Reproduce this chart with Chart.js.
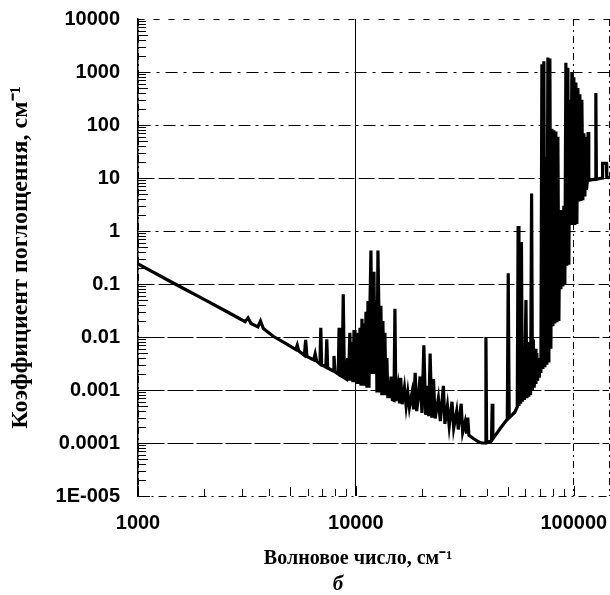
<!DOCTYPE html>
<html>
<head>
<meta charset="utf-8">
<script src="https://cdn.jsdelivr.net/npm/chart.js@4/dist/chart.umd.min.js"></script>
<style>
  html, body { margin: 0; padding: 0; background: #fff; }
  #wrap { width: 610px; height: 595px; }
</style>
</head>
<body>
<div id="wrap"><canvas id="c" width="610" height="595"></canvas></div>
<script>
// Wave number, cm^-1
const waveNumber = [
  1000, 1480, 2000, 2600, 3100, 3200, 3300, 3550, 3650, 3760,
  4190, 4800, 5300, 5380, 5460, 5800, 5880, 5960, 6400, 6500,
  6600, 6840, 6900, 6960, 7280, 7350, 7420, 7850, 7930, 8020,
  8300, 8370, 8450, 8650, 8745, 8850, 9050, 9150, 9250, 9380,
  9480, 9590, 9690, 9800, 9900, 10010, 10110, 10220, 10330, 10440,
  10550, 10660, 10770, 10890, 11000, 11120, 11240, 11360, 11480, 11600,
  11720, 11850, 11970, 12100, 12230, 12360, 12490, 12620, 12750, 12890,
  13020, 13160, 13300, 13440, 13580, 13730, 13870, 14020, 14170, 14320,
  14500, 14700, 14950, 15100, 15250, 15600, 15850, 16050, 16300, 16700,
  17000, 17300, 17600, 18100, 18400, 18700, 19000, 19400, 19700, 20100,
  20500, 20900, 21300, 21600, 21900, 22300, 22700, 23100, 23900, 24400,
  25200, 25600, 26300, 26800, 27600, 28100, 29000, 29500, 30400, 30900,
  31700, 32200, 32600, 33000, 34700, 36500, 37800, 39200, 39500, 39800,
  41900, 42200, 42500, 46000, 49500, 50000, 50500, 53600, 55000, 55500,
  56000, 56600, 57000, 57500, 58000, 58700, 59300, 60300, 60900, 61500,
  62100, 62700, 63300, 64000, 64600, 65200, 65800, 66400, 67000, 67600,
  68200, 68800, 69400, 70000, 70600, 71340, 72100, 72860, 73640, 74420,
  75210, 76010, 76820, 77630, 78460, 79290, 80130, 80980, 81840, 82710,
  83590, 84480, 85370, 86280, 87200, 88120, 89060, 90000, 90960, 91930,
  92900, 93890, 94890, 95890, 96910, 97940, 98980, 100030, 101090, 102170,
  103250, 104350, 105460, 106580, 107710, 108850, 110010, 111180, 112360, 113550,
  114300, 115400, 116300, 117100, 125500, 126200, 126900, 135000, 135500, 141000,
  141600, 145000
];
// Absorption coefficient, cm^-1
const absorption = [
  0.24, 0.1, 0.052, 0.029, 0.0195, 0.023, 0.018, 0.0155, 0.02, 0.0145,
  0.0102, 0.0074, 0.0058, 0.007, 0.0055, 0.0045, 0.0088, 0.0043, 0.0037, 0.0048,
  0.0035, 0.0031, 0.015, 0.003, 0.0027, 0.009, 0.0026, 0.0023, 0.0044, 0.0022,
  0.002, 0.015, 0.0019, 0.0018, 0.064, 0.0017, 0.0016, 0.004, 0.0015, 0.012,
  0.0015, 0.008, 0.0014, 0.0136, 0.0014, 0.01, 0.0013, 0.012, 0.0013, 0.015,
  0.0012, 0.022, 0.0012, 0.018, 0.0012, 0.03, 0.0011, 0.048, 0.0011, 0.04,
  0.43, 0.002, 0.04, 0.17, 0.002, 0.05, 0.0009, 0.43, 0.03, 0.0009,
  0.039, 0.0008, 0.02, 0.0008, 0.012, 0.0008, 0.004, 0.0007, 0.0015, 0.0007,
  0.0018, 0.00066, 0.00064, 0.034, 0.00062, 0.0012, 0.00056, 0.0017, 0.00054, 0.0011,
  0.0005, 0.0009, 0.00047, 0.0009, 0.00043, 0.0021, 0.0004, 0.0008, 0.0018, 0.00037,
  0.007, 0.00034, 0.0012, 0.00032, 0.0049, 0.0003, 0.0016, 0.00029, 0.0007, 0.00026,
  0.0012, 0.00023, 0.0005, 0.00021, 0.0006, 0.00019, 0.0004, 0.00018, 0.00055, 0.00016,
  0.00025, 0.00015, 0.0003, 0.00014, 0.00012, 0.000105, 0.0001, 0.0001, 0.01, 0.000102,
  0.00011, 0.00055, 0.00012, 0.00019, 0.00028, 0.16, 0.0003, 0.00038, 0.00048, 1.24,
  0.0005, 0.004, 0.00055, 0.62, 0.0006, 0.005, 0.00065, 0.05, 0.0007, 0.008,
  0.00075, 0.006, 0.0008, 5.1, 0.001, 0.009, 0.0011, 0.006, 0.0013, 0.005,
  0.0015, 0.004, 0.0017, 0.004, 0.0021, 1400, 0.0025, 1600, 0.0027, 25,
  0.003, 1870, 0.0033, 1800, 0.006, 85, 0.016, 80, 0.018, 75,
  0.019, 60, 0.02, 2.5, 0.08, 2.5, 0.09, 3, 0.1, 1500,
  0.22, 1200, 0.23, 300, 1.3, 1000, 1.3, 800, 1.3, 630,
  1.35, 500, 3.6, 380, 3.7, 300, 3.8, 70, 4.5, 60,
  6, 9, 74, 9, 9.5, 400, 9.5, 10, 19, 19,
  10.5, 10
];

const xTickValues = [1000, 10000, 100000, 145000];
const xTickLabels = ['1000', '10000', '100000', ''];
const yTickValues = [1e-5, 1e-4, 1e-3, 1e-2, 1e-1, 1, 10, 100, 1000, 10000];
const yTickLabels = ['1E-005', '0.0001', '0.001', '0.01', '0.1', '1', '10', '100', '1000', '10000'];

const xTitle = 'Волновое число, см⁻¹';
const yTitle = 'Коэффициент поглощення, см⁻¹';
const figLabel = 'б';

const points = waveNumber.map((x, i) => ({ x: x, y: absorption[i] }));

function labelFor(values, labels, v) {
  for (let i = 0; i < values.length; i++) {
    if (Math.abs(Math.log10(values[i]) - Math.log10(v)) < 1e-6) return labels[i];
  }
  return '';
}

const yDash = {
  '10000': [6, 9], '1000': [12, 6, 3, 6], '100': [12, 5, 3, 5], '10': [16, 4],
  '1': [12, 5, 3, 5], '0.1': [16, 4], '0.01': [26, 3], '0.001': [26, 3],
  '0.0001': [26, 3], '1E-005': [8, 5, 2, 5]
};

const minorTicks = {
  id: 'minorTicks',
  afterDatasetsDraw(chart) {
    const { ctx, chartArea: a, scales } = chart;
    const x = scales.x, y = scales.y;
    ctx.save();
    ctx.strokeStyle = '#000';
    ctx.lineWidth = 1;
    ctx.setLineDash([]);
    ctx.beginPath();
    for (let e = -5; e < 4; e++) {
      const d = Math.pow(10, e);
      for (let k = 1; k < 10; k++) {
        const py = Math.round(y.getPixelForValue(k * d)) + 0.5;
        const len = k === 1 ? 12 : (k === 5 ? 10 : 8);
        ctx.moveTo(a.left, py);
        ctx.lineTo(a.left + len, py);
      }
    }
    for (let e = 3; e < 6; e++) {
      const d = Math.pow(10, e);
      for (let k = 1; k < 10; k++) {
        const v = k * d;
        if (v > x.max) break;
        const px = Math.round(x.getPixelForValue(v)) + 0.5;
        const len = k === 1 ? 10 : (k === 5 ? 9 : 7);
        ctx.moveTo(px, a.bottom);
        ctx.lineTo(px, a.bottom - len);
      }
    }
    ctx.stroke();
    ctx.restore();
  }
};

const bottomTexts = {
  id: 'bottomTexts',
  afterDraw(chart) {
    const ctx = chart.ctx;
    ctx.save();
    ctx.fillStyle = '#000';
    ctx.textAlign = 'center';
    ctx.textBaseline = 'alphabetic';
    ctx.font = 'bold 20px "Liberation Serif"';
    ctx.fillText(xTitle, 358, 564);
    ctx.font = 'italic bold 21px "Liberation Serif"';
    ctx.fillText(figLabel, 338, 590);
    ctx.restore();
  }
};

new Chart(document.getElementById('c'), {
  type: 'scatter',
  data: {
    datasets: [{
      data: points,
      showLine: true,
      borderColor: '#000',
      backgroundColor: '#000',
      borderWidth: 3.2,
      pointRadius: 0,
      tension: 0,
      borderJoinStyle: 'miter'
    }]
  },
  plugins: [minorTicks, bottomTexts],
  options: {
    responsive: false,
    animation: false,
    devicePixelRatio: 1,
    layout: { padding: { top: 19, right: 1, left: 0, bottom: 0 } },
    plugins: {
      legend: { display: false },
      tooltip: { enabled: false },
      title: { display: false }
    },
    scales: {
      x: {
        type: 'logarithmic',
        min: 1000,
        max: 145000,
        afterBuildTicks(scale) { scale.ticks = xTickValues.map(v => ({ value: v })); },
        afterFit(scale) {
          scale.height = 99;
          scale.paddingLeft = 0; scale.paddingRight = 0;
        },
        ticks: {
          autoSkip: false,
          maxRotation: 0,
          padding: 15,
          color: '#000',
          font: { family: 'Liberation Sans', weight: 'bold', size: 20 },
          callback: (v) => labelFor(xTickValues, xTickLabels, v)
        },
        grid: { color: '#000', lineWidth: 1, drawTicks: false },
        border: {
          display: false,
          dash: (ctx) => (ctx.tick && ctx.tick.value === 10000) ? [] : [7, 4, 2, 4]
        },
        title: { display: false }
      },
      y: {
        type: 'logarithmic',
        min: 1e-5,
        max: 1e4,
        afterBuildTicks(scale) { scale.ticks = yTickValues.map(v => ({ value: v })); },
        afterFit(scale) {
          scale.width = 138;
          scale.paddingTop = 0; scale.paddingBottom = 0;
        },
        ticks: {
          autoSkip: false,
          padding: 18,
          color: '#000',
          font: { family: 'Liberation Sans', weight: 'bold', size: 20 },
          callback: (v) => labelFor(yTickValues, yTickLabels, v)
        },
        grid: { color: '#000', lineWidth: 1, drawTicks: false },
        border: {
          display: true,
          color: '#000',
          width: 1.5,
          dash: (ctx) => {
            if (!ctx.tick) return [];
            const lab = labelFor(yTickValues, yTickLabels, ctx.tick.value);
            return yDash[lab] || [10, 4];
          }
        },
        title: {
          display: true,
          text: yTitle,
          color: '#000',
          font: { family: 'Liberation Serif', weight: 'bold', size: 24 },
          padding: { top: 6, bottom: 0 }
        }
      }
    }
  }
});
</script>
</body>
</html>
